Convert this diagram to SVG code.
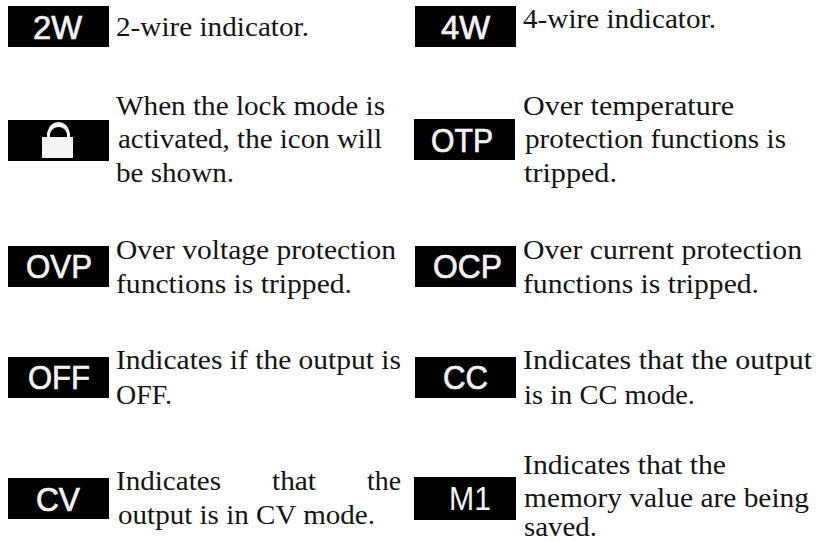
<svg xmlns="http://www.w3.org/2000/svg" width="816" height="542" viewBox="0 0 816 542">
<style>
.b{fill:#000}
.l{font-family:"Liberation Sans",Arial,sans-serif;font-size:33px;fill:#f2f2f2;stroke:#f2f2f2;stroke-width:.7px}
.t{font-family:"Liberation Serif","Times New Roman",serif;font-size:27px;fill:#141414}
</style>
<rect width="816" height="542" fill="#fff"/>
<g id="n2w"><rect class="b" x="8" y="6" width="101" height="41"/><text class="l" x="33" y="39" textLength="49" lengthAdjust="spacingAndGlyphs">2W</text><text class="t" x="116" y="36" textLength="193" lengthAdjust="spacingAndGlyphs">2-wire indicator.</text></g>
<g id="n4w"><rect class="b" x="415" y="6" width="101" height="41"/><text class="l" x="441" y="39" textLength="49" lengthAdjust="spacingAndGlyphs">4W</text><text class="t" x="523" y="28" textLength="193" lengthAdjust="spacingAndGlyphs">4-wire indicator.</text></g>
<g id="nlock"><rect class="b" x="8" y="120" width="101" height="41"/><path fill-rule="evenodd" d="M42 158V137H47V133Q50 122 58.500 122Q67 122 70 133V137H73V158ZM50 137H67V134Q65 127 58.500 127Q52 127 50 134Z" fill="#f4f4f4"/><text class="t" x="116" y="115" textLength="269" lengthAdjust="spacingAndGlyphs">When the lock mode is</text><text class="t" x="118" y="148" textLength="264" lengthAdjust="spacingAndGlyphs">activated, the icon will</text><text class="t" x="116" y="182" textLength="118" lengthAdjust="spacingAndGlyphs">be shown.</text></g>
<g id="notp"><rect class="b" x="414" y="119" width="101" height="41"/><text class="l" x="431" y="152" textLength="62" lengthAdjust="spacingAndGlyphs">OTP</text><text class="t" x="523" y="115" textLength="211" lengthAdjust="spacingAndGlyphs">Over temperature</text><text class="t" x="525" y="148" textLength="261" lengthAdjust="spacingAndGlyphs">protection functions is</text><text class="t" x="524" y="182" textLength="93" lengthAdjust="spacingAndGlyphs">tripped.</text></g>
<g id="novp"><rect class="b" x="8" y="246" width="101" height="41"/><text class="l" x="26" y="278" textLength="66" lengthAdjust="spacingAndGlyphs">OVP</text><text class="t" x="116" y="259" textLength="280" lengthAdjust="spacingAndGlyphs">Over voltage protection</text><text class="t" x="116" y="293" textLength="236" lengthAdjust="spacingAndGlyphs">functions is tripped.</text></g>
<g id="nocp"><rect class="b" x="415" y="246" width="101" height="41"/><text class="l" x="433" y="278" textLength="69" lengthAdjust="spacingAndGlyphs">OCP</text><text class="t" x="523" y="259" textLength="279" lengthAdjust="spacingAndGlyphs">Over current protection</text><text class="t" x="523" y="293" textLength="236" lengthAdjust="spacingAndGlyphs">functions is tripped.</text></g>
<g id="noff"><rect class="b" x="8" y="357" width="101" height="41"/><text class="l" x="28" y="389" textLength="62" lengthAdjust="spacingAndGlyphs">OFF</text><text class="t" x="116" y="369" textLength="285" lengthAdjust="spacingAndGlyphs">Indicates if the output is</text><text class="t" x="116" y="404" textLength="56" lengthAdjust="spacingAndGlyphs">OFF.</text></g>
<g id="ncc"><rect class="b" x="415" y="357" width="101" height="41"/><text class="l" x="443" y="389" textLength="45" lengthAdjust="spacingAndGlyphs">CC</text><text class="t" x="523" y="369" textLength="289" lengthAdjust="spacingAndGlyphs">Indicates that the output</text><text class="t" x="524" y="404" textLength="171" lengthAdjust="spacingAndGlyphs">is in CC mode.</text></g>
<g id="ncv"><rect class="b" x="8" y="478" width="101" height="41"/><text class="l" x="36" y="511" textLength="44" lengthAdjust="spacingAndGlyphs">CV</text><text class="t" x="116" y="490" textLength="105" lengthAdjust="spacingAndGlyphs">Indicates</text><text class="t" x="272" y="490" textLength="44" lengthAdjust="spacingAndGlyphs">that</text><text class="t" x="367" y="490" textLength="34" lengthAdjust="spacingAndGlyphs">the</text><text class="t" x="118" y="524" textLength="257" lengthAdjust="spacingAndGlyphs">output is in CV mode.</text></g>
<g id="nm1"><rect class="b" x="414" y="477" width="102" height="43"/><text class="l" x="449" y="510" textLength="42" lengthAdjust="spacingAndGlyphs" style="stroke:none">M1</text><text class="t" x="523" y="474" textLength="203" lengthAdjust="spacingAndGlyphs">Indicates that the</text><text class="t" x="524" y="507" textLength="285" lengthAdjust="spacingAndGlyphs">memory value are being</text><text class="t" x="524" y="536" textLength="73" lengthAdjust="spacingAndGlyphs">saved.</text></g>
</svg>
